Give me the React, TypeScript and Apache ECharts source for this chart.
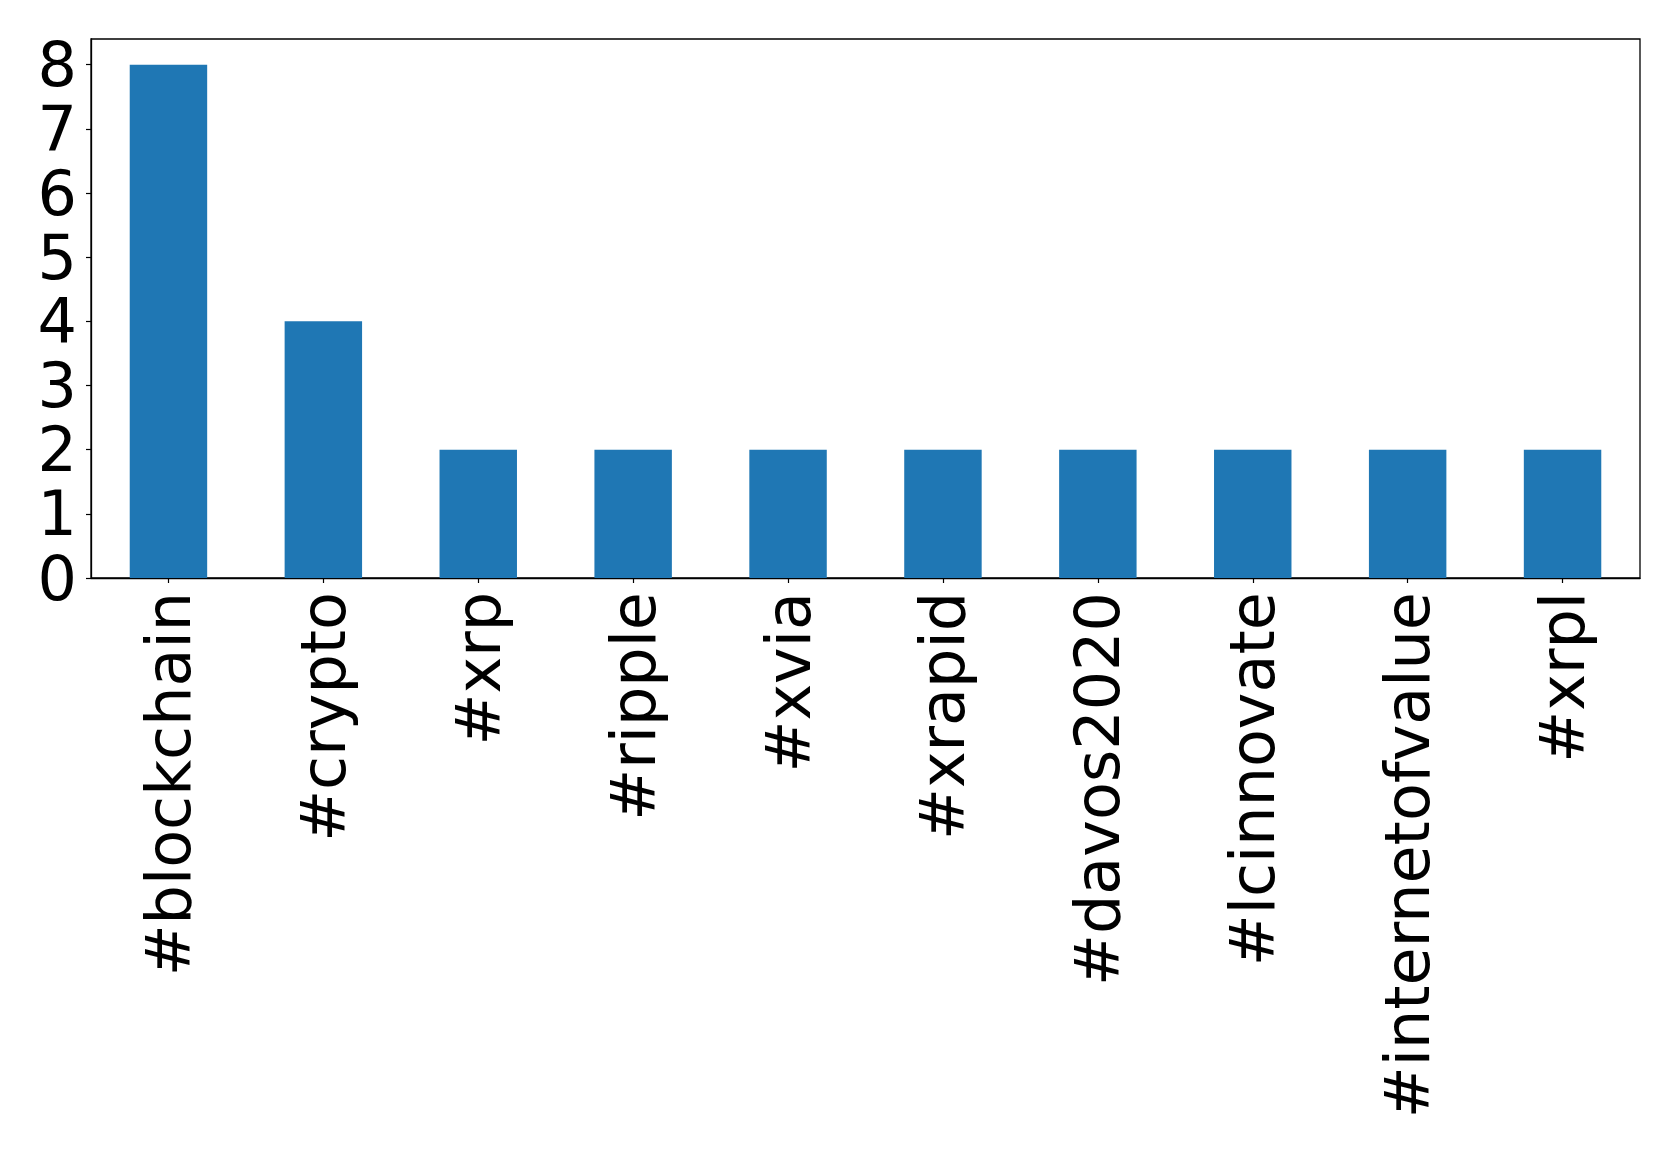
import React, { useEffect, useRef } from "react";
import * as echarts from "echarts";

const categories = [
  "#blockchain",
  "#crypto",
  "#xrp",
  "#ripple",
  "#xvia",
  "#xrapid",
  "#davos2020",
  "#lcinnovate",
  "#internetofvalue",
  "#xrpl",
];
const counts = [8, 4, 2, 2, 2, 2, 2, 2, 2, 2];
const yTicks = [0, 1, 2, 3, 4, 5, 6, 7, 8];
const yMax = 8.4;

export default function App() {
  const ref = useRef<HTMLDivElement>(null);
  useEffect(() => {
    document.body.style.margin = "0";
    const chart = echarts.init(ref.current!, null, { renderer: "svg" });
    const font = "DejaVu Sans";
    chart.setOption({
      animation: false,
      backgroundColor: "#ffffff",
      grid: {
        left: 91,
        right: 39,
        top: 39,
        bottom: 580,
        show: true,
        borderColor: "#000000",
        borderWidth: 1.3,
        containLabel: false,
      },
      xAxis: {
        type: "category",
        data: categories,
        boundaryGap: true,
        axisLine: { show: true, lineStyle: { color: "#000", width: 1.3 } },
        axisTick: {
          show: true,
          alignWithLabel: true,
          length: 5,
          lineStyle: { color: "#000", width: 1.2 },
        },
        axisLabel: {
          rotate: 90,
          interval: 0,
          margin: 14,
          fontSize: 62,
          fontFamily: font,
          color: "#000",
        },
      },
      yAxis: {
        type: "value",
        min: 0,
        max: yMax,
        interval: 1,
        splitLine: { show: false },
        axisLine: { show: true, lineStyle: { color: "#000", width: 1.3 } },
        axisTick: {
          show: true,
          length: 5,
          customValues: yTicks,
          lineStyle: { color: "#000", width: 1.2 },
        },
        axisLabel: {
          margin: 14,
          fontSize: 62,
          fontFamily: font,
          color: "#000",
          customValues: yTicks,
        },
      },
      series: [
        {
          type: "bar",
          data: counts,
          barWidth: "50%",
          itemStyle: { color: "#1f77b4" },
        },
      ],
    });
    return () => chart.dispose();
  }, []);
  return <div ref={ref} style={{ width: 1679, height: 1158 }} />;
}
